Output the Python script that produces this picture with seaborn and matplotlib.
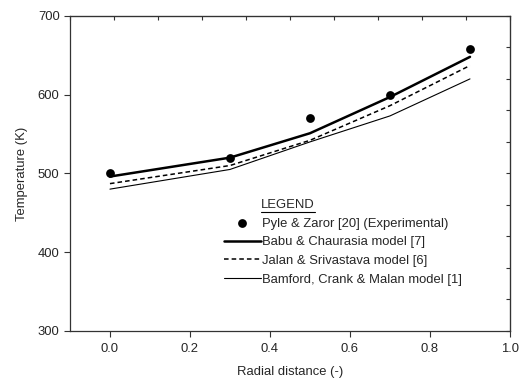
import numpy as np
import pandas as pd
import matplotlib
matplotlib.use("Agg")
import matplotlib.pyplot as plt
from matplotlib.lines import Line2D
import seaborn as sns

# 实验数据
exp_r = [0.0, 0.3, 0.5, 0.7, 0.9]
exp_T = [500, 520, 570, 600, 658]

# 模型曲线
model_r = [0.0, 0.3, 0.5, 0.7, 0.9]
babu_T = [496, 520, 551, 597, 648]
jalan_T = [487, 510, 542, 586, 637]
bamford_T = [480, 505, 540, 573, 620]

labels = [
    "Pyle & Zaror [20] (Experimental)",
    "Babu & Chaurasia model [7]",
    "Jalan & Srivastava model [6]",
    "Bamford, Crank & Malan model [1]",
]

FS = 9.4

sns.set_style("ticks")
plt.rcParams["font.family"] = ["Liberation Sans", "DejaVu Sans"]
plt.rcParams["font.size"] = FS

fig = plt.figure(figsize=(5.22, 3.79), dpi=100)
ax = fig.add_axes([0.134, 0.127, 0.843, 0.831])

sns.scatterplot(x=exp_r, y=exp_T, ax=ax, color="black", s=40,
                edgecolor="black", linewidth=0, zorder=5, label=labels[0])
sns.lineplot(x=model_r, y=babu_T, ax=ax, color="black", lw=1.8, label=labels[1])
sns.lineplot(x=model_r, y=jalan_T, ax=ax, color="black", lw=1.1,
             linestyle=(0, (3, 2)), label=labels[2])
sns.lineplot(x=model_r, y=bamford_T, ax=ax, color="black", lw=0.8, label=labels[3])

ax.set_xlim(-0.1, 1.0)
ax.set_ylim(300, 700)
ax.set_xticks(np.arange(0, 1.01, 0.2))
ax.set_yticks(np.arange(300, 701, 100))
ax.xaxis.set_major_formatter(matplotlib.ticker.FormatStrFormatter("%.1f"))
ax.set_xlabel("Radial distance (-)", fontsize=FS, labelpad=8)
ax.set_ylabel("Temperature (K)", fontsize=FS, labelpad=7)
ax.tick_params(direction="out", length=4, width=0.8, labelsize=FS, color="#333333")
ax.tick_params(axis="x", pad=5)
for s in ax.spines.values():
    s.set_visible(True)
    s.set_linewidth(0.9)
    s.set_color("#333333")

# 上边和右边的内向刻度
top = ax.secondary_xaxis("top")
top.set_xticks(np.linspace(-0.1, 1.0, 11))
top.tick_params(direction="in", length=3, labeltop=False, color="#333333")
right = ax.secondary_yaxis("right")
right.set_yticks(np.linspace(300, 700, 11))
right.tick_params(direction="in", length=3, labelright=False, color="#333333")

leg = ax.legend(loc="upper left", bbox_to_anchor=(0.35, 0.36), frameon=False,
                fontsize=FS, handlelength=2.8, handletextpad=0.15,
                labelspacing=0.5, borderaxespad=0, borderpad=0)

t = ax.text(0.434, 0.40, "LEGEND", transform=ax.transAxes, fontsize=FS,
            ha="left", va="center")
fig.canvas.draw()
bb = t.get_window_extent().transformed(fig.transFigure.inverted())
fig.add_artist(Line2D([bb.x0, bb.x1], [bb.y0 - 0.002, bb.y0 - 0.002],
                      transform=fig.transFigure, color="black", lw=0.8))

fig.savefig("out.png", dpi=100)
